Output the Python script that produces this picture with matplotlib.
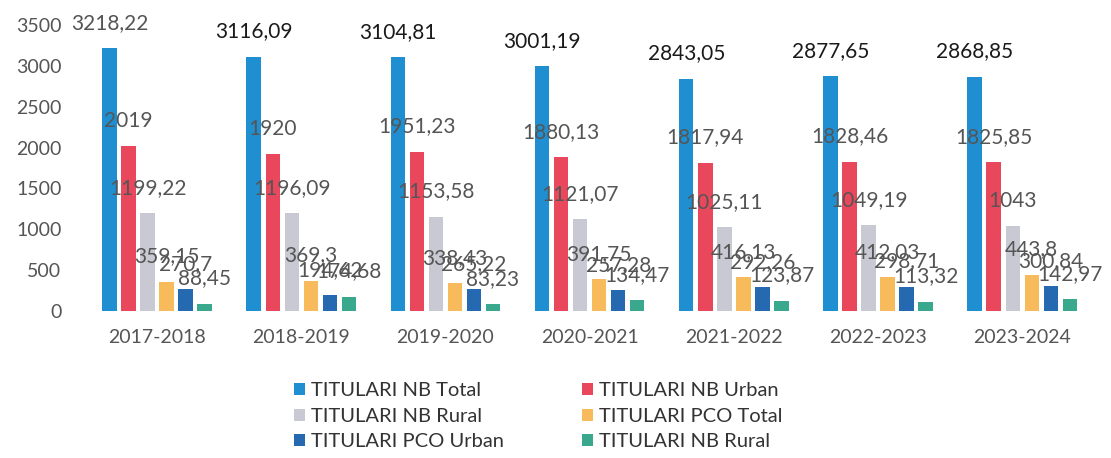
import numpy as np
import matplotlib.pyplot as plt

plt.rcParams['font.family'] = ['Lato', 'DejaVu Sans']

years = ['2017-2018', '2018-2019', '2019-2020', '2020-2021',
         '2021-2022', '2022-2023', '2023-2024']

nb_total = [3218.22, 3116.09, 3104.81, 3001.19, 2843.05, 2877.65, 2868.85]
nb_urban = [2019, 1920, 1951.23, 1880.13, 1817.94, 1828.46, 1825.85]
nb_rural = [1199.22, 1196.09, 1153.58, 1121.07, 1025.11, 1049.19, 1043]
pco_total = [359.15, 369.3, 338.43, 391.75, 416.13, 412.03, 443.8]
pco_urban = [270.7, 194.62, 265.22, 257.28, 292.26, 298.71, 300.84]
pco_rural = [88.45, 174.68, 83.23, 134.47, 123.87, 113.32, 142.97]

series = [
    ('TITULARI NB Total', nb_total, '#1f8fd2'),
    ('TITULARI NB Urban', nb_urban, '#e9485c'),
    ('TITULARI NB Rural', nb_rural, '#c8c9d2'),
    ('TITULARI PCO Total', pco_total, '#f8bb5c'),
    ('TITULARI PCO Urban', pco_urban, '#2569b0'),
    ('TITULARI NB Rural', pco_rural, '#3aa88c'),
]

def fmt(v):
    s = ('%.2f' % v).rstrip('0').rstrip('.')
    return s.replace('.', ',')

fig = plt.figure(figsize=(11.11, 4.58), dpi=100)
ax = fig.add_axes([0.0765, 0.321, 0.9085, 0.624])

x = np.arange(len(years))
pitch = 0.132
width = 0.10
handles = []
for i, (name, vals, col) in enumerate(series):
    pos = x + (i - 2.5) * pitch
    b = ax.bar(pos, vals, width, color=col, label=name)
    handles.append(b)
    for j, (px, v) in enumerate(zip(pos, vals)):
        # top labels after the first group are darker in the original
        c = '#1a1a1a' if (i == 0 and j > 0) else '#555555'
        ax.annotate(fmt(v), (px, v), xytext=(0, 11), textcoords='offset points',
                    ha='center', va='bottom', fontsize=15, color=c,
                    annotation_clip=False)

ax.set_xlim(-0.5, len(years) - 0.5)
ax.set_ylim(0, 3500)
ax.set_yticks(np.arange(0, 3501, 500))
ax.set_xticks(x)
ax.set_xticklabels(years)
ax.tick_params(axis='y', length=0, pad=17, labelsize=14, labelcolor='#555555')
ax.tick_params(axis='x', length=0, pad=13, labelsize=14, labelcolor='#555555')
for s in ax.spines.values():
    s.set_visible(False)

order = [0, 2, 4, 1, 3, 5]
fig.legend([handles[k] for k in order], [series[k][0] for k in order],
           ncol=2, loc='upper left', bbox_to_anchor=(0.257, 0.183),
           frameon=False, fontsize=14.5, labelcolor='#333333',
           handlelength=0.55, handleheight=0.55, handletextpad=0.3,
           columnspacing=3.9, labelspacing=0.42, borderaxespad=0)

plt.savefig('out.png', dpi=100)
